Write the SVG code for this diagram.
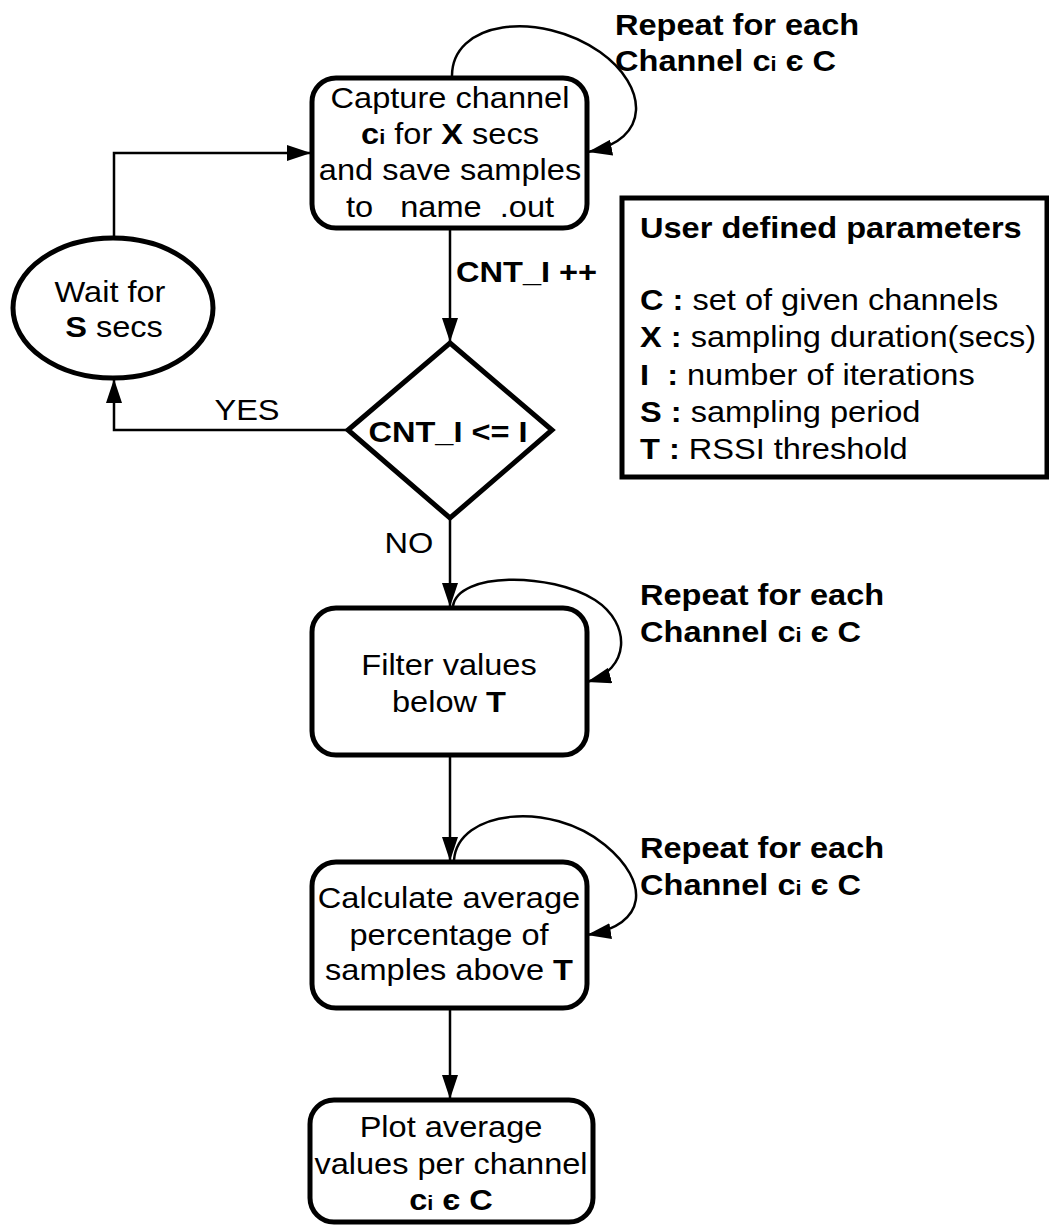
<svg xmlns="http://www.w3.org/2000/svg" width="1049" height="1226" viewBox="0 0 1049 1226">
  <style>
    .box { fill: #fff; stroke: #000; stroke-width: 5; }
    .wire { fill: none; stroke: #000; stroke-width: 2.5; }
    .t { font-family: "Liberation Sans", Arial, sans-serif; font-size: 30px; fill: #000; white-space: pre; }
    .m { text-anchor: middle; }
    .b { font-weight: bold; }
    .sub { font-weight: bold; font-size: 20px; }
  </style>
  <defs>
    <marker id="arrow" viewBox="0 0 24 16" refX="24" refY="8" markerWidth="24" markerHeight="16" markerUnits="userSpaceOnUse" orient="auto">
      <path d="M0,0 L24,8 L0,16 Z" fill="#000"/>
    </marker>
  </defs>

  <!-- connectors -->
  <g id="connectors">
    <path class="wire" d="M452,78 C450,20 540,10 600,52 C648,86 652,140 588,152" marker-end="url(#arrow)"/>
    <path class="wire" d="M114,238 L114,153 L311,153" marker-end="url(#arrow)"/>
    <path class="wire" d="M450,228 L450,342" marker-end="url(#arrow)"/>
    <path class="wire" d="M348,430 L114,430 L114,379" marker-end="url(#arrow)"/>
    <path class="wire" d="M450,518 L450,607" marker-end="url(#arrow)"/>
    <path class="wire" d="M453,606 C458,572 550,572 595,600 C632,624 630,670 587,682" marker-end="url(#arrow)"/>
    <path class="wire" d="M450,755 L450,861" marker-end="url(#arrow)"/>
    <path class="wire" d="M454,860 C458,810 550,800 605,845 C650,882 648,925 587,935" marker-end="url(#arrow)"/>
    <path class="wire" d="M450,1008 L450,1099" marker-end="url(#arrow)"/>
  </g>

  <!-- capture step -->
  <g id="capture">
    <rect class="box" x="312" y="78" width="275" height="150" rx="24"/>
    <text class="t m" transform="matrix(1.085 0 0 1 450 108)">Capture channel</text>
    <text class="t m" transform="matrix(1.085 0 0 1 450 144)"><tspan class="b">c</tspan><tspan class="sub">i</tspan> for <tspan class="b">X</tspan> secs</text>
    <text class="t m" transform="matrix(1.085 0 0 1 450 180)">and save samples</text>
    <text class="t m" transform="matrix(1.085 0 0 1 450 217)">to   name  .out</text>
  </g>

  <g id="capture-loop-label">
    <text class="t b" transform="matrix(1.085 0 0 1 615 35)">Repeat for each</text>
    <text class="t b" transform="matrix(1.085 0 0 1 615 71)">Channel c<tspan class="sub">i</tspan> є C</text>
  </g>

  <!-- wait step -->
  <g id="wait">
    <ellipse class="box" cx="113" cy="308" rx="100" ry="70"/>
    <text class="t m" transform="matrix(1.085 0 0 1 110 302)">Wait for</text>
    <text class="t m" transform="matrix(1.085 0 0 1 114 337)"><tspan class="b">S</tspan> secs</text>
  </g>

  <g id="counter-label">
    <text class="t b" transform="matrix(1.085 0 0 1 456 282)">CNT_I ++</text>
  </g>

  <!-- decision -->
  <g id="decision">
    <path class="box" d="M450,343 L552,430 L450,518 L348,430 Z" stroke-width="6"/>
    <text class="t m b" transform="matrix(1.085 0 0 1 448 442)">CNT_I &lt;= I</text>
  </g>
  <g id="yes-label">
    <text class="t m" transform="matrix(1.085 0 0 1 247 420)">YES</text>
  </g>
  <g id="no-label">
    <text class="t m" transform="matrix(1.085 0 0 1 409 553)">NO</text>
  </g>

  <!-- parameter legend -->
  <g id="parameters">
    <rect class="box" x="622" y="198" width="425" height="279"/>
    <text class="t b" transform="matrix(1.085 0 0 1 640 238)">User defined parameters</text>
    <text class="t" transform="matrix(1.085 0 0 1 640 310)"><tspan class="b">C :</tspan> set of given channels</text>
    <text class="t" transform="matrix(1.085 0 0 1 640 347)"><tspan class="b">X :</tspan> sampling duration(secs)</text>
    <text class="t" transform="matrix(1.085 0 0 1 640 385)"><tspan class="b">I  :</tspan> number of iterations</text>
    <text class="t" transform="matrix(1.085 0 0 1 640 422)"><tspan class="b">S :</tspan> sampling period</text>
    <text class="t" transform="matrix(1.085 0 0 1 640 459)"><tspan class="b">T :</tspan> RSSI threshold</text>
  </g>

  <!-- filter step -->
  <g id="filter">
    <rect class="box" x="312" y="608" width="275" height="147" rx="24"/>
    <text class="t m" transform="matrix(1.085 0 0 1 449 675)">Filter values</text>
    <text class="t m" transform="matrix(1.085 0 0 1 449 712)">below <tspan class="b">T</tspan></text>
  </g>
  <g id="filter-loop-label">
    <text class="t b" transform="matrix(1.085 0 0 1 640 605)">Repeat for each</text>
    <text class="t b" transform="matrix(1.085 0 0 1 640 642)">Channel c<tspan class="sub">i</tspan> є C</text>
  </g>

  <!-- average step -->
  <g id="average">
    <rect class="box" x="312" y="862" width="275" height="146" rx="24"/>
    <text class="t m" transform="matrix(1.085 0 0 1 449 908)">Calculate average</text>
    <text class="t m" transform="matrix(1.085 0 0 1 449 945)">percentage of</text>
    <text class="t m" transform="matrix(1.085 0 0 1 449 980)">samples above <tspan class="b">T</tspan></text>
  </g>
  <g id="average-loop-label">
    <text class="t b" transform="matrix(1.085 0 0 1 640 858)">Repeat for each</text>
    <text class="t b" transform="matrix(1.085 0 0 1 640 895)">Channel c<tspan class="sub">i</tspan> є C</text>
  </g>

  <!-- plot step -->
  <g id="plot">
    <rect class="box" x="310" y="1100" width="283" height="122" rx="24"/>
    <text class="t m" transform="matrix(1.085 0 0 1 451 1137)">Plot average</text>
    <text class="t m" transform="matrix(1.085 0 0 1 451 1174)">values per channel</text>
    <text class="t m" transform="matrix(1.085 0 0 1 451 1210)"><tspan class="b">c</tspan><tspan class="sub">i</tspan><tspan class="b"> є C</tspan></text>
  </g>
</svg>
